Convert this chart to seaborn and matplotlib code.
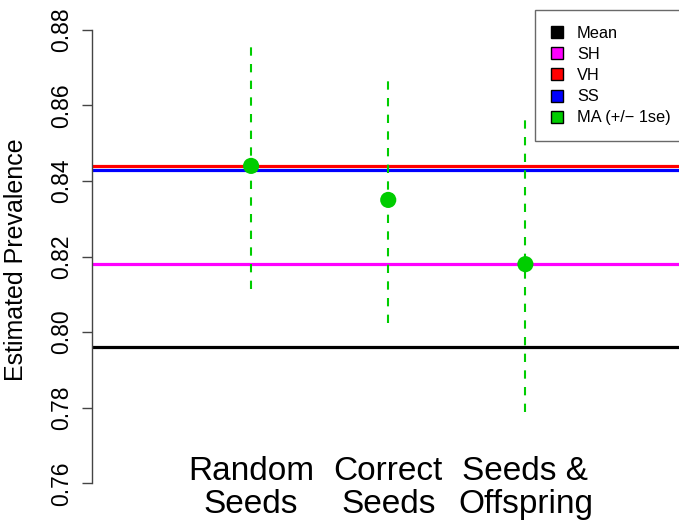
import numpy as np
import pandas as pd
import matplotlib
matplotlib.use("Agg")
from matplotlib import pyplot as plt
from matplotlib.patches import Patch
import seaborn as sns

# valores
metodos = ["Random\nSeeds", "Correct\nSeeds", "Seeds &\nOffspring"]
posicion = [1, 2, 3]
ma_est = [0.844, 0.835, 0.818]
ma_inf = [0.8115, 0.8025, 0.779]
ma_sup = [0.876, 0.868, 0.857]

ref_nombres = ["Mean", "SH", "VH", "SS"]
ref_valores = [0.796, 0.818, 0.844, 0.843]
ref_colores = ["black", "#FF00FF", "#FF0000", "#0000FF"]
verde = "#00CD00"

yticks = [0.76, 0.78, 0.80, 0.82, 0.84, 0.86, 0.88]

sns.set_theme(style="white")
plt.rcParams['font.family'] = ['Liberation Sans', 'DejaVu Sans']
plt.rcParams['text.color'] = 'black'
plt.rcParams['ytick.color'] = 'black'

df = pd.DataFrame({"pos": posicion, "est": ma_est})

fig = plt.figure(figsize=(6.79, 5.2), dpi=100)
ax = fig.add_axes([92 / 679, 0, 1 - 92 / 679, 1])

for nom, val, col in zip(ref_nombres, ref_valores, ref_colores):
    ax.axhline(val, color=col, lw=2.3, zorder=2)

ax.vlines(posicion, ma_inf, ma_sup, colors=verde, lw=1.5,
          linestyles=(0, (4, 4)), zorder=3)
sns.scatterplot(data=df, x="pos", y="est", color=verde, s=135,
                edgecolor="none", ax=ax, zorder=4)

ax.set_xlim(-0.16, 4.12)
ax.set_ylim(0.7503, 0.8879)

for sp in ["top", "right", "bottom"]:
    ax.spines[sp].set_visible(False)
ax.spines["left"].set_bounds(0.76, 0.88)
ax.spines["left"].set_color("#444444")
ax.spines["left"].set_linewidth(1.0)

ax.set_xticks([])
ax.set_yticks(yticks)
ax.set_yticklabels(["%.2f" % t for t in yticks], rotation=90, va="center")
ax.tick_params(axis="y", left=True, length=7.5, width=1.0, color="#444444",
               labelcolor="black", pad=6, labelsize=16.5)
ax.set_xlabel("")
ax.set_ylabel("")

fig.text(16 / 679, 0.5, "Estimated Prevalence", rotation=90,
         ha="center", va="center", fontsize=18)

for p, m in zip(posicion, metodos):
    ax.text(p, 1 - 488 / 520, m, transform=ax.get_xaxis_transform(),
            ha="center", va="center", fontsize=24, linespacing=1.1,
            color="black")

handles = [Patch(facecolor=c, edgecolor="black", lw=1.0) for c in ref_colores]
handles.append(Patch(facecolor=verde, edgecolor="black", lw=1.0))
labels = ref_nombres + ["MA (+/\u2212 1se)"]
leg = fig.legend(handles, labels, loc="upper left",
                 bbox_to_anchor=(535 / 679, 1 - 10 / 520),
                 bbox_transform=fig.transFigure, fontsize=11.8,
                 handlelength=0.75, handleheight=0.75, handletextpad=0.85,
                 labelspacing=0.38, borderpad=0.95, borderaxespad=0,
                 frameon=True, fancybox=False)
leg.get_frame().set_edgecolor("#444444")
leg.get_frame().set_linewidth(1.0)
for t in leg.get_texts():
    t.set_color("black")

fig.savefig("out.png", dpi=100)
